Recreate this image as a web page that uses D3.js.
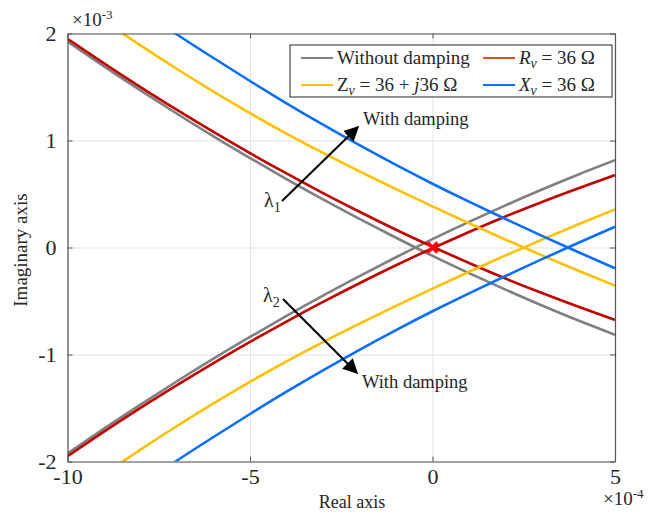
<!DOCTYPE html>
<html>
<head>
<meta charset="utf-8">
<script src="https://cdn.jsdelivr.net/npm/d3@7"></script>
<style>
  body { margin: 0; background: #fff; }
  svg { font-family: "Liberation Serif", "Times New Roman", serif; }
</style>
</head>
<body>
<svg width="660" height="514"></svg>
<script>
// real part (x1e-4) and imaginary part (x1e-3), upper branch = lambda1, lower = lambda2
var xTicks = [-10, -5, 0, 5];
var yTicks = [-2, -1, 0, 1, 2];

var grayX = [-10, -9, -8, -7, -6, -5, -4, -3, -2, -1, 0, 1, 2, 3, 4, 5];
var grayUp = [1.925, 1.693, 1.468, 1.250, 1.039, 0.836, 0.639, 0.449, 0.267, 0.091, -0.078, -0.239, -0.394, -0.542, -0.683, -0.816];
var grayLow = [-1.925, -1.693, -1.468, -1.250, -1.039, -0.836, -0.639, -0.449, -0.267, -0.091, 0.078, 0.239, 0.394, 0.542, 0.683, 0.816];

var redX = [-10, -9, -8, -7, -6, -5, -4, -3, -2, -1, 0, 1, 2, 3, 4, 5];
var redUp = [1.95, 1.721, 1.499, 1.286, 1.080, 0.882, 0.692, 0.509, 0.334, 0.166, 0.007, -0.145, -0.290, -0.426, -0.554, -0.676];
var redLow = [-1.95, -1.721, -1.499, -1.286, -1.080, -0.882, -0.692, -0.509, -0.334, -0.166, -0.007, 0.145, 0.290, 0.426, 0.554, 0.676];

var yellowX = [-9, -8, -7, -6, -5, -4, -3, -2, -1, 0, 1, 2, 3, 4, 5];
var yellowUp = [2.12, 1.889, 1.668, 1.457, 1.256, 1.065, 0.884, 0.712, 0.546, 0.384, 0.227, 0.074, -0.074, -0.217, -0.356];
var yellowLow = [-2.12, -1.889, -1.668, -1.457, -1.256, -1.065, -0.884, -0.712, -0.546, -0.384, -0.227, -0.074, 0.074, 0.217, 0.356];

var blueX = [-8, -7, -6, -5, -4, -3, -2, -1, 0, 1, 2, 3, 4, 5];
var blueUp = [2.22, 1.991, 1.771, 1.556, 1.348, 1.148, 0.956, 0.772, 0.596, 0.428, 0.266, 0.109, -0.044, -0.194];
var blueLow = [-2.22, -1.991, -1.771, -1.556, -1.348, -1.148, -0.956, -0.772, -0.596, -0.428, -0.266, -0.109, 0.044, 0.194];

var svg = d3.select("svg");
var pL = 67.5, pR = 615, pT = 33.5, pB = 461.5;

xScale = d3.scaleLinear().domain([-10, 5]).range([pL, pR]);
yScale = d3.scaleLinear().domain([-2, 2]).range([pB, pT]);

// grid
svg.append("g").attr("transform", "translate(0," + pB + ")")
    .call(d3.axisBottom(xScale).tickValues(xTicks).tickSize(-(pB - pT)).tickFormat(""))
    .call(function (g) { g.select(".domain").remove(); g.selectAll("line").attr("stroke", "#e3e3e3"); });
svg.append("g").attr("transform", "translate(" + pL + ",0)")
    .call(d3.axisLeft(yScale).tickValues(yTicks).tickSize(-(pR - pL)).tickFormat(""))
    .call(function (g) { g.select(".domain").remove(); g.selectAll("line").attr("stroke", "#e3e3e3"); });

svg.append("defs").append("clipPath").attr("id", "plotClip")
    .append("rect").attr("x", pL).attr("y", pT).attr("width", pR - pL).attr("height", pB - pT);

var lineGen = d3.line().x(function (d) { return xScale(d[0]); }).y(function (d) { return yScale(d[1]); })
    .curve(d3.curveNatural);

var series = [
    { x: grayX, up: grayUp, low: grayLow, color: "#808080" },
    { x: redX, up: redUp, low: redLow, color: "#C00000" },
    { x: yellowX, up: yellowUp, low: yellowLow, color: "#FFC000" },
    { x: blueX, up: blueUp, low: blueLow, color: "#0A6EFF" }
];
var plot = svg.append("g").attr("clip-path", "url(#plotClip)");
series.forEach(function (s) {
    [s.up, s.low].forEach(function (ys) {
        plot.append("path").attr("d", lineGen(d3.zip(s.x, ys)))
            .attr("fill", "none").attr("stroke", s.color).attr("stroke-width", 2.6);
    });
});

// red cross at the origin
var cx = xScale(0), cy = yScale(0);
svg.append("path").attr("d", "M" + (cx - 5) + "," + (cy - 5) + "L" + (cx + 5) + "," + (cy + 5) + "M" + (cx - 5) + "," + (cy + 5) + "L" + (cx + 5) + "," + (cy - 5))
    .attr("stroke", "#FF0000").attr("stroke-width", 3.5);

// axes box with inward ticks
var axisColor = "#555";
function styleAxis(g) {
    g.select(".domain").attr("stroke", axisColor).attr("stroke-width", 1.2);
    g.selectAll(".tick line").attr("stroke", axisColor);
    g.selectAll("text").attr("fill", "#262626").style("font-size", "22px").style("font-family", "Liberation Serif");
}
svg.append("g").attr("transform", "translate(0," + pB + ")")
    .call(d3.axisBottom(xScale).tickValues(xTicks).tickSize(-5).tickSizeOuter(0).tickPadding(7)
        .tickFormat(function (d) { return d < 0 ? "-" + Math.abs(d) : d; }))
    .call(styleAxis);
svg.append("g").attr("transform", "translate(0," + pT + ")")
    .call(d3.axisTop(xScale).tickValues(xTicks).tickSize(-5).tickSizeOuter(0).tickFormat(""))
    .call(styleAxis);
svg.append("g").attr("transform", "translate(" + pL + ",0)")
    .call(d3.axisLeft(yScale).tickValues(yTicks).tickSize(-5).tickSizeOuter(0).tickPadding(11)
        .tickFormat(function (d) { return d < 0 ? "-" + Math.abs(d) : d; }))
    .call(styleAxis);
svg.append("g").attr("transform", "translate(" + pR + ",0)")
    .call(d3.axisRight(yScale).tickValues(yTicks).tickSize(-5).tickSizeOuter(0).tickFormat(""))
    .call(styleAxis);

// exponent labels
function expLabel(x, y, exp) {
    var t = svg.append("text").attr("x", x).attr("y", y).attr("fill", "#262626").style("font-size", "19px");
    t.append("tspan").text("\u00d710");
    t.append("tspan").attr("dy", -7).style("font-size", "13px").text(exp);
}
expLabel(72, 26, "-3");
expLabel(603, 505, "-4");

// axis titles
svg.append("text").attr("x", 352).attr("y", 508).attr("text-anchor", "middle")
    .attr("fill", "#262626").style("font-size", "18px").text("Real axis");
svg.append("text").attr("transform", "translate(27," + 250 + ") rotate(-90)").attr("text-anchor", "middle")
    .attr("fill", "#262626").style("font-size", "19px").text("Imaginary axis");

// annotations
svg.append("defs").append("marker").attr("id", "arrowHead").attr("viewBox", "0 0 10 10")
    .attr("refX", 9).attr("refY", 5).attr("markerWidth", 15).attr("markerHeight", 15)
    .attr("markerUnits", "userSpaceOnUse").attr("orient", "auto")
    .append("path").attr("d", "M0,0L10,5L0,10z").attr("fill", "#000");

svg.append("line").attr("x1", 282).attr("y1", 201).attr("x2", 358).attr("y2", 127)
    .attr("stroke", "#000").attr("stroke-width", 2).attr("marker-end", "url(#arrowHead)");
svg.append("line").attr("x1", 283).attr("y1", 299).attr("x2", 357).attr("y2", 373)
    .attr("stroke", "#000").attr("stroke-width", 2).attr("marker-end", "url(#arrowHead)");

function lambdaLabel(x, y, sub) {
    var t = svg.append("text").attr("x", x).attr("y", y).attr("fill", "#262626").style("font-size", "20px");
    t.append("tspan").text("\u03bb");
    t.append("tspan").attr("dy", 5).style("font-size", "14px").text(sub);
}
lambdaLabel(264, 207, "1");
lambdaLabel(263, 302, "2");
svg.append("text").attr("x", 363).attr("y", 125).attr("fill", "#262626").style("font-size", "18.5px").text("With damping");
svg.append("text").attr("x", 362).attr("y", 388).attr("fill", "#262626").style("font-size", "18.5px").text("With damping");

// legend
var lg = svg.append("g");
lg.append("rect").attr("x", 290).attr("y", 45).attr("width", 322).attr("height", 52)
    .attr("fill", "#fff").attr("stroke", "#262626").attr("stroke-width", 1);
var legendItems = [
    { x: 301, y: 58, color: "#808080", parts: [["Without damping", "normal", 0]] },
    { x: 483, y: 58, color: "#D95319", parts: [["R", "italic", 0], ["v", "italic", 1], [" = 36 \u03a9", "normal", 0]] },
    { x: 301, y: 85, color: "#FFC000", parts: [["Z", "normal", 0], ["v", "italic", 1], [" = 36 + ", "normal", 0], ["j", "italic", 0], ["36 \u03a9", "normal", 0]] },
    { x: 483, y: 85, color: "#0A6EFF", parts: [["X", "italic", 0], ["v", "italic", 1], [" = 36 \u03a9", "normal", 0]] }
];
legendItems.forEach(function (it) {
    lg.append("line").attr("x1", it.x).attr("x2", it.x + 32).attr("y1", it.y).attr("y2", it.y)
        .attr("stroke", it.color).attr("stroke-width", 2);
    var t = lg.append("text").attr("x", it.x + 36).attr("y", it.y + 6).attr("fill", "#262626").style("font-size", "19px");
    var shift = 0;
    it.parts.forEach(function (p) {
        var dy = p[2] ? 4 - shift : -shift;
        shift = p[2] ? 4 : 0;
        t.append("tspan").attr("dy", dy).style("font-style", p[1])
            .style("font-size", p[2] ? "14px" : "19px").text(p[0]);
    });
});
</script>
</body>
</html>
